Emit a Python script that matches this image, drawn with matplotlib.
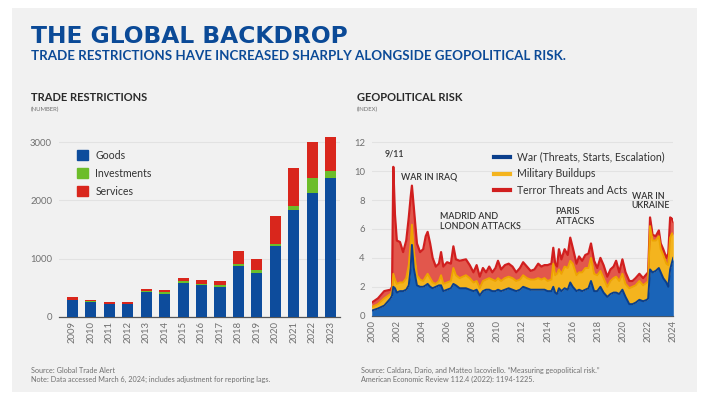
import matplotlib
matplotlib.use("Agg")
import matplotlib.pyplot as plt
import numpy as np
from matplotlib.patches import Rectangle, Patch
from matplotlib.lines import Line2D

# ---------------- data ----------------
years = ["2009", "2010", "2011", "2012", "2013", "2014", "2015", "2016",
         "2017", "2018", "2019", "2020", "2021", "2022", "2023"]
goods = [280, 250, 210, 210, 420, 390, 580, 540, 510, 870, 760, 1220, 1840, 2130, 2380]
investments = [15, 15, 15, 15, 25, 30, 35, 30, 30, 35, 40, 30, 60, 260, 130]
services = [50, 25, 20, 20, 25, 35, 50, 60, 70, 225, 190, 480, 665, 610, 590]

gpr_dates = [2000.0, 2000.5, 2001.0, 2001.5, 2001.62, 2001.72, 2001.85, 2002.0, 2002.25, 2002.5,
             2002.75, 2002.95, 2003.1, 2003.2, 2003.35, 2003.6, 2003.85, 2004.1, 2004.3, 2004.45,
             2004.65, 2004.85, 2005.1, 2005.35, 2005.52, 2005.7, 2006.0, 2006.3, 2006.5, 2006.7,
             2007.0, 2007.5, 2007.8, 2008.1, 2008.35, 2008.6, 2008.85, 2009.1, 2009.35, 2009.6,
             2009.85, 2010.05, 2010.3, 2010.6, 2010.9, 2011.2, 2011.5, 2011.8, 2012.05, 2012.35,
             2012.65, 2012.95, 2013.25, 2013.5, 2013.75, 2014.0, 2014.3, 2014.45, 2014.6, 2014.75,
             2014.9, 2015.1, 2015.35, 2015.6, 2015.8, 2016.0, 2016.3, 2016.5, 2016.75, 2017.0,
             2017.25, 2017.45, 2017.7, 2017.95, 2018.2, 2018.45, 2018.75, 2019.0, 2019.25, 2019.45,
             2019.7, 2019.95, 2020.2, 2020.5, 2020.75, 2021.0, 2021.3, 2021.6, 2021.9, 2022.0,
             2022.15, 2022.35, 2022.6, 2022.85, 2023.0, 2023.2, 2023.45, 2023.6, 2023.75, 2023.9,
             2024.0]
war = [0.35, 0.5, 0.7, 1.2, 1.4, 2.0, 1.9, 1.6, 1.7, 1.7,
       1.8, 2.1, 3.3, 4.9, 3.3, 2.1, 2.0, 2.0, 2.1, 2.2,
       2.0, 1.9, 2.0, 2.1, 2.1, 1.7, 1.8, 1.9, 2.2, 2.1,
       1.9, 1.9, 1.8, 1.7, 1.8, 1.4, 1.7, 1.8, 1.8, 1.7,
       1.7, 1.8, 1.7, 1.8, 1.9, 1.8, 1.7, 1.8, 2.0, 1.9,
       1.8, 1.8, 1.8, 1.8, 1.8, 1.7, 1.7, 2.0, 1.6, 1.5,
       1.9, 1.7, 1.9, 1.8, 2.3, 2.0, 1.7, 1.8, 1.7, 1.8,
       1.9, 2.4, 1.7, 1.7, 2.0, 1.6, 1.3, 1.5, 1.6, 1.6,
       1.5, 1.8, 1.3, 0.8, 0.8, 0.9, 1.1, 1.0, 1.1, 1.2,
       3.2, 3.0, 3.1, 3.3, 3.0, 2.6, 2.3, 2.0, 3.2, 3.7,
       4.0]
military = [0.25, 0.3, 0.5, 0.3, 0.3, 0.9, 0.6, 0.6, 0.6, 0.6,
            0.8, 1.4, 1.7, 1.4, 1.2, 0.7, 0.5, 0.4, 0.6, 0.7,
            0.6, 0.4, 0.2, 0.3, 0.7, 0.5, 0.5, 0.5, 1.1, 0.7,
            0.7, 0.9, 0.8, 0.6, 0.6, 0.5, 0.7, 0.7, 0.8, 0.8,
            0.7, 0.8, 0.7, 0.8, 0.8, 0.8, 0.7, 0.7, 0.8, 0.7,
            0.7, 0.7, 0.8, 0.7, 0.8, 0.7, 0.8, 1.6, 1.2, 1.4,
            1.3, 1.2, 1.5, 1.5, 1.5, 1.6, 1.1, 1.2, 1.3, 1.5,
            1.4, 1.6, 1.2, 1.1, 1.1, 1.0, 0.7, 0.9, 1.0, 1.1,
            0.9, 1.1, 0.9, 1.1, 1.2, 1.2, 1.3, 1.1, 1.2, 1.2,
            3.0, 2.2, 2.1, 2.2, 1.6, 1.6, 1.3, 1.5, 2.2, 2.0,
            1.6]
terror = [0.3, 0.4, 0.5, 0.3, 0.3, 7.4, 4.5, 3.0, 2.8, 2.1,
          2.6, 3.3, 3.2, 2.7, 3.0, 2.2, 1.9, 2.2, 2.8, 2.9,
          2.4, 1.7, 1.2, 1.2, 1.6, 1.2, 1.4, 1.2, 1.5, 1.1,
          1.2, 1.1, 0.9, 0.7, 1.1, 0.8, 0.9, 0.5, 0.8, 0.5,
          0.9, 1.2, 0.8, 0.9, 0.9, 0.8, 0.6, 0.8, 0.9, 0.8,
          0.6, 0.7, 1.0, 0.9, 0.9, 1.1, 1.1, 1.1, 0.8, 0.5,
          1.4, 1.0, 1.2, 0.9, 1.6, 1.1, 0.8, 1.1, 0.8, 0.9,
          1.0, 1.0, 0.9, 0.5, 0.9, 0.9, 0.7, 0.8, 0.8, 1.1,
          0.6, 1.0, 0.8, 0.5, 0.4, 0.5, 0.5, 0.5, 0.6, 0.6,
          0.6, 0.4, 0.3, 0.4, 0.4, 0.4, 0.4, 0.8, 1.4, 1.0,
          0.9]
gpr_ticks = list(range(2000, 2025, 2))

# ---------------- style ----------------
BG = "#f1f1f1"
NAVY = "#0b4a97"
C_GOODS = "#0d4c9c"
C_INV = "#6cbd2a"
C_SERV = "#d9261c"
C_WAR_F, C_WAR_L = "#1a64b8", "#0b3f8c"
C_MIL_F, C_MIL_L = "#f4b41e", "#eea400"
C_TER_F, C_TER_L = "#e2574c", "#d11f1f"
TXT = "#2a2a2a"
GRAY = "#707070"
FONT = "Lato"

plt.rcParams["font.family"] = [FONT, "DejaVu Sans"]

fig = plt.figure(figsize=(7.05, 3.98), dpi=100, facecolor="white")
W, H = 705, 398

def fx(x):
    return x / W

def fy(y):
    return 1 - y / H

# gray panel
fig.patches.append(Rectangle((fx(12), fy(392)), fx(685), (392 - 8) / H,
                             transform=fig.transFigure, facecolor=BG, edgecolor="none", zorder=-10))

# titles
fig.text(fx(31), fy(43), "THE GLOBAL BACKDROP", fontsize=16.8, fontweight="bold",
         family=["DejaVu Sans"], color=NAVY, va="baseline")
fig.text(fx(31), fy(60), "TRADE RESTRICTIONS HAVE INCREASED SHARPLY ALONGSIDE GEOPOLITICAL RISK.",
         fontsize=9.6, fontweight="bold", family=["Liberation Sans Narrow", "Lato", "DejaVu Sans"],
         color=NAVY, va="baseline")

fig.text(fx(31), fy(101), "TRADE RESTRICTIONS", fontsize=8, fontweight="bold", color=TXT, va="baseline")
fig.text(fx(31), fy(111), "(NUMBER)", fontsize=4.3, color=GRAY, va="baseline")
fig.text(fx(357), fy(101), "GEOPOLITICAL RISK", fontsize=8, fontweight="bold", color=TXT, va="baseline")
fig.text(fx(357), fy(111), "(INDEX)", fontsize=4.3, color=GRAY, va="baseline")

fig.text(fx(31), fy(373), "Source: Global Trade Alert", fontsize=5.2, color=GRAY, va="baseline")
fig.text(fx(31), fy(382), "Note: Data accessed March 6, 2024; includes adjustment for reporting lags.",
         fontsize=5.2, color=GRAY, va="baseline")
fig.text(fx(361), fy(373), "Source: Caldara, Dario, and Matteo Iacoviello. \u201cMeasuring geopolitical risk.\u201d",
         fontsize=5.2, color=GRAY, va="baseline")
fig.text(fx(361), fy(382), "American Economic Review 112.4 (2022): 1194-1225.",
         fontsize=5.2, color=GRAY, va="baseline")

# ---------------- left: bar chart ----------------
ax1 = fig.add_axes([fx(59), fy(316.7), fx(340 - 59), (316.7 - 130.7) / H])
ax1.set_facecolor(BG)
x = np.arange(len(years))
g = np.array(goods)
inv = np.array(investments)
s = np.array(services)
bw = 0.6
ax1.bar(x, g, width=bw, color=C_GOODS, zorder=3, label="Goods")
ax1.bar(x, inv, width=bw, bottom=g, color=C_INV, zorder=3, label="Investments")
ax1.bar(x, s, width=bw, bottom=g + inv, color=C_SERV, zorder=3, label="Services")
ax1.set_xlim(-0.72, 14.5)
ax1.set_ylim(0, 3200)
ax1.set_yticks([0, 1000, 2000, 3000])
ax1.set_xticks(x)
ax1.set_xticklabels(years, rotation=90)
ax1.tick_params(axis="both", length=0, labelsize=6.8, colors=GRAY, pad=3)
ax1.tick_params(axis="y", pad=5)
ax1.grid(axis="y", color="#e2e2e2", lw=0.8, zorder=0)
for sp in ["top", "right", "left"]:
    ax1.spines[sp].set_visible(False)
ax1.spines["bottom"].set_color("#555555")
ax1.spines["bottom"].set_linewidth(0.9)
leg1 = ax1.legend(handles=[Patch(color=C_GOODS), Patch(color=C_INV), Patch(color=C_SERV)],
                  labels=["Goods", "Investments", "Services"], loc="upper left",
                  bbox_to_anchor=(0.05, 0.92), frameon=False, fontsize=7.6,
                  handlelength=1.0, handleheight=1.0, handletextpad=0.7, labelspacing=0.65,
                  borderaxespad=0)
for t in leg1.get_texts():
    t.set_color("#333333")

# ---------------- right: stacked area ----------------
ax2 = fig.add_axes([fx(371.7), fy(315.7), fx(673.3 - 371.7), (315.7 - 136.5) / H])
ax2.set_facecolor(BG)
d = np.array(gpr_dates)
w = np.array(war)
m = w + np.array(military)
t = m + np.array(terror)
ax2.fill_between(d, 0, w, color=C_WAR_F, lw=0, zorder=3)
ax2.fill_between(d, w, m, color=C_MIL_F, lw=0, zorder=3)
ax2.fill_between(d, m, t, color=C_TER_F, lw=0, zorder=3)
ax2.plot(d, t, color=C_TER_L, lw=1.6, zorder=4, solid_joinstyle="round")
ax2.plot(d, m, color=C_MIL_L, lw=1.4, zorder=4, solid_joinstyle="round")
ax2.plot(d, w, color=C_WAR_L, lw=1.4, zorder=4, solid_joinstyle="round")
ax2.set_xlim(2000, 2024)
ax2.set_ylim(0, 12.4)
ax2.set_yticks(range(0, 13, 2))
ax2.set_xticks(gpr_ticks)
ax2.set_xticklabels([str(v) for v in gpr_ticks], rotation=90)
ax2.tick_params(axis="both", length=0, labelsize=6.8, colors=GRAY, pad=3)
ax2.tick_params(axis="y", pad=5)
ax2.grid(axis="y", color="#e2e2e2", lw=0.8, zorder=0)
for sp in ["top", "right", "left"]:
    ax2.spines[sp].set_visible(False)
ax2.spines["bottom"].set_color("#555555")
ax2.spines["bottom"].set_linewidth(0.9)
leg2 = ax2.legend(handles=[Line2D([], [], color=C_WAR_L, lw=3),
                           Line2D([], [], color=C_MIL_F, lw=3),
                           Line2D([], [], color=C_TER_L, lw=3)],
                  labels=["War (Threats, Starts, Escalation)", "Military Buildups",
                          "Terror Threats and Acts"],
                  loc="upper left", bbox_to_anchor=(0.39, 0.94), frameon=False, fontsize=7.6,
                  handlelength=1.6, handletextpad=0.6, labelspacing=0.55, borderaxespad=0)
for tx in leg2.get_texts():
    tx.set_color("#333333")

ann = dict(fontsize=6.4, color="#333333", fontweight="semibold", zorder=6)
ax2.text(2001.8, 10.9, "9/11", ha="center", va="bottom", **ann)
ax2.text(2002.3, 9.3, "WAR IN IRAQ", ha="left", va="bottom", **ann)
ax2.text(2005.4, 5.85, "MADRID AND\nLONDON ATTACKS", ha="left", va="bottom", linespacing=1.1, **ann)
ax2.text(2014.6, 6.2, "PARIS\nATTACKS", ha="left", va="bottom", linespacing=1.1, **ann)
ax2.text(2020.7, 7.3, "WAR IN\nUKRAINE", ha="left", va="bottom", linespacing=1.1, **ann)

fig.savefig("out.png", dpi=100, facecolor="white")
